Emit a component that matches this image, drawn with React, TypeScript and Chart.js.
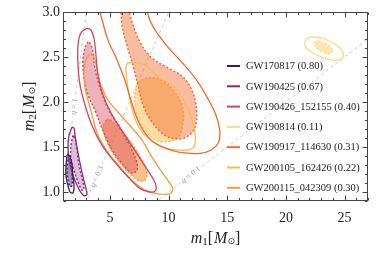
import React, { useEffect, useRef } from 'react';
import { Chart, registerables } from 'chart.js';

Chart.register(...registerables);

type P = { x: number; y: number };

// ---------- axes ----------
const xRange = [1, 27];
const yRange = [0.9, 3.0];
const xTicks = [5, 10, 15, 20, 25];
const yTicks = [1.0, 1.5, 2.0, 2.5, 3.0];

// ---------- legend ----------
const eventNames = [
  'GW170817',
  'GW190425',
  'GW190426_152155',
  'GW190814',
  'GW190917_114630',
  'GW200105_162426',
  'GW200115_042309',
];
const eventValues = ['0.80', '0.67', '0.40', '0.11', '0.31', '0.22', '0.30'];
const eventColors = ['#3d1a5e', '#8b2a80', '#d5455a', '#fdd984', '#ef6a2c', '#fcbb4c', '#f99b3a'];
const eventFills = [
  'rgba(61,26,94,0.45)',
  'rgba(139,42,128,0.3)',
  'rgba(217,72,91,0.42)',
  'rgba(253,217,132,0.65)',
  'rgba(239,106,44,0.45)',
  'rgba(252,187,76,0.5)',
  'rgba(246,140,50,0.55)',
];

// ---------- mass-ratio reference lines ----------
const qValues = ['1', '0.3', '0.1'];
const qLine1: P[] = [{ x: 0.5, y: 0.5 }, { x: 3.2, y: 3.2 }];
const qLine03: P[] = [{ x: 2.5, y: 0.75 }, { x: 10.5, y: 3.15 }];
const qLine01: P[] = [{ x: 8.0, y: 0.8 }, { x: 28, y: 2.8 }];
const qLabelM1 = [1.95, 3.9, 11.9];

// ---------- contours (90% solid, 50% filled) ----------
const gw170817_90: P[] = [
  { x: 1.34, y: 1.41 }, { x: 1.26, y: 1.3 }, { x: 1.26, y: 1.17 }, { x: 1.43, y: 1.07 },
  { x: 1.6, y: 1.0 }, { x: 1.85, y: 0.99 }, { x: 1.94, y: 1.06 }, { x: 1.85, y: 1.17 },
  { x: 1.77, y: 1.3 }, { x: 1.6, y: 1.39 }, { x: 1.43, y: 1.42 },
];
const gw170817_50: P[] = [
  { x: 1.43, y: 1.36 }, { x: 1.34, y: 1.24 }, { x: 1.43, y: 1.13 }, { x: 1.6, y: 1.06 },
  { x: 1.77, y: 1.07 }, { x: 1.77, y: 1.19 }, { x: 1.68, y: 1.3 }, { x: 1.51, y: 1.37 },
];
const gw190425_90: P[] = [
  { x: 1.77, y: 1.72 }, { x: 1.51, y: 1.63 }, { x: 1.43, y: 1.5 }, { x: 1.51, y: 1.36 },
  { x: 1.77, y: 1.22 }, { x: 2.11, y: 1.1 }, { x: 2.45, y: 1.01 }, { x: 2.79, y: 0.96 },
  { x: 3.04, y: 0.97 }, { x: 2.96, y: 1.04 }, { x: 2.7, y: 1.17 }, { x: 2.45, y: 1.32 },
  { x: 2.19, y: 1.5 }, { x: 2.02, y: 1.63 }, { x: 1.94, y: 1.71 },
];
const gw190425_50: P[] = [
  { x: 1.85, y: 1.63 }, { x: 1.68, y: 1.52 }, { x: 1.68, y: 1.38 }, { x: 1.94, y: 1.24 },
  { x: 2.28, y: 1.11 }, { x: 2.62, y: 1.02 }, { x: 2.79, y: 1.03 }, { x: 2.62, y: 1.16 },
  { x: 2.36, y: 1.3 }, { x: 2.19, y: 1.47 }, { x: 2.02, y: 1.6 },
];
const gw190426_90: P[] = [
  { x: 3.04, y: 2.82 }, { x: 2.53, y: 2.77 }, { x: 2.28, y: 2.63 }, { x: 2.28, y: 2.41 },
  { x: 2.45, y: 2.19 }, { x: 2.87, y: 1.97 }, { x: 3.47, y: 1.74 }, { x: 4.32, y: 1.52 },
  { x: 5.43, y: 1.33 }, { x: 6.53, y: 1.17 }, { x: 7.55, y: 1.04 }, { x: 8.4, y: 1.0 },
  { x: 8.91, y: 1.02 }, { x: 8.83, y: 1.11 }, { x: 8.23, y: 1.24 }, { x: 7.38, y: 1.41 },
  { x: 6.28, y: 1.63 }, { x: 5.17, y: 1.86 }, { x: 4.4, y: 2.08 }, { x: 3.98, y: 2.3 },
  { x: 3.81, y: 2.52 }, { x: 3.64, y: 2.71 }, { x: 3.38, y: 2.8 },
];
const gw190426_50: P[] = [
  { x: 3.13, y: 2.67 }, { x: 2.87, y: 2.6 }, { x: 2.7, y: 2.47 }, { x: 2.79, y: 2.27 },
  { x: 3.13, y: 2.08 }, { x: 3.72, y: 1.91 }, { x: 4.32, y: 1.71 }, { x: 5.17, y: 1.47 },
  { x: 6.19, y: 1.29 }, { x: 6.87, y: 1.21 }, { x: 7.3, y: 1.24 }, { x: 7.3, y: 1.33 },
  { x: 6.79, y: 1.49 }, { x: 5.85, y: 1.71 }, { x: 4.83, y: 1.93 }, { x: 4.15, y: 2.16 },
  { x: 3.72, y: 2.38 }, { x: 3.55, y: 2.56 }, { x: 3.38, y: 2.64 },
];
const gw190814_90: P[] = [
  { x: 21.6, y: 2.667 }, { x: 21.85, y: 2.711 }, { x: 22.45, y: 2.722 }, { x: 23.3, y: 2.7 },
  { x: 24.15, y: 2.644 }, { x: 24.74, y: 2.578 }, { x: 24.91, y: 2.511 }, { x: 24.57, y: 2.467 },
  { x: 23.89, y: 2.467 }, { x: 23.04, y: 2.5 }, { x: 22.19, y: 2.556 }, { x: 21.68, y: 2.611 },
];
const gw190814_50: P[] = [
  { x: 22.36, y: 2.656 }, { x: 22.7, y: 2.678 }, { x: 23.3, y: 2.656 }, { x: 23.81, y: 2.611 },
  { x: 23.98, y: 2.567 }, { x: 23.72, y: 2.533 }, { x: 23.13, y: 2.556 }, { x: 22.62, y: 2.6 },
];
const gw190917_90: P[] = [
  { x: 3.72, y: 3.19 }, { x: 4.15, y: 3.0 }, { x: 4.83, y: 2.69 }, { x: 5.6, y: 2.47 },
  { x: 6.28, y: 2.24 }, { x: 6.79, y: 2.02 }, { x: 7.3, y: 1.82 }, { x: 7.81, y: 1.69 },
  { x: 8.57, y: 1.57 }, { x: 9.68, y: 1.49 }, { x: 10.96, y: 1.44 }, { x: 12.66, y: 1.43 },
  { x: 13.68, y: 1.47 }, { x: 14.28, y: 1.56 }, { x: 14.36, y: 1.69 }, { x: 14.02, y: 1.86 },
  { x: 13.34, y: 2.04 }, { x: 12.4, y: 2.24 }, { x: 11.21, y: 2.43 }, { x: 9.94, y: 2.61 },
  { x: 9.0, y: 2.77 }, { x: 8.4, y: 2.91 }, { x: 8.06, y: 3.08 }, { x: 7.98, y: 3.19 },
];
const gw190917_50: P[] = [
  { x: 5.94, y: 3.08 }, { x: 6.02, y: 2.86 }, { x: 6.45, y: 2.63 }, { x: 6.96, y: 2.41 },
  { x: 7.38, y: 2.19 }, { x: 7.81, y: 1.97 }, { x: 8.57, y: 1.78 }, { x: 9.68, y: 1.63 },
  { x: 10.7, y: 1.59 }, { x: 11.55, y: 1.61 }, { x: 12.23, y: 1.71 }, { x: 12.4, y: 1.89 },
  { x: 12.06, y: 2.11 }, { x: 11.21, y: 2.28 }, { x: 9.94, y: 2.38 }, { x: 8.57, y: 2.49 },
  { x: 7.55, y: 2.67 }, { x: 6.7, y: 2.97 }, { x: 6.62, y: 3.08 },
];
const gw200105_90: P[] = [
  { x: 6.45, y: 2.43 }, { x: 7.13, y: 2.44 }, { x: 7.98, y: 2.41 }, { x: 9.09, y: 2.28 },
  { x: 10.53, y: 2.16 }, { x: 11.64, y: 1.93 }, { x: 12.23, y: 1.67 }, { x: 12.23, y: 1.52 },
  { x: 11.81, y: 1.47 }, { x: 10.53, y: 1.47 }, { x: 9.43, y: 1.5 }, { x: 8.23, y: 1.6 },
  { x: 7.38, y: 1.74 }, { x: 6.87, y: 1.93 }, { x: 6.53, y: 2.16 }, { x: 6.36, y: 2.36 },
];
const gw200105_50: P[] = [
  { x: 7.38, y: 2.22 }, { x: 8.23, y: 2.27 }, { x: 9.43, y: 2.24 }, { x: 10.53, y: 2.11 },
  { x: 11.21, y: 1.93 }, { x: 11.21, y: 1.74 }, { x: 10.79, y: 1.6 }, { x: 9.94, y: 1.56 },
  { x: 9.0, y: 1.57 }, { x: 8.15, y: 1.66 }, { x: 7.38, y: 1.82 }, { x: 7.13, y: 2.0 },
  { x: 7.21, y: 2.16 },
];
const gw200115_90: P[] = [
  { x: 3.3, y: 2.53 }, { x: 2.96, y: 2.47 }, { x: 2.79, y: 2.33 }, { x: 2.87, y: 2.16 },
  { x: 3.13, y: 2.02 }, { x: 3.47, y: 1.86 }, { x: 3.98, y: 1.63 }, { x: 4.83, y: 1.44 },
  { x: 5.85, y: 1.28 }, { x: 6.87, y: 1.13 }, { x: 7.98, y: 1.02 }, { x: 9.09, y: 0.98 },
  { x: 10.11, y: 0.98 }, { x: 10.36, y: 1.03 }, { x: 9.94, y: 1.13 }, { x: 9.43, y: 1.22 },
  { x: 8.57, y: 1.39 }, { x: 7.72, y: 1.58 }, { x: 6.28, y: 1.8 }, { x: 4.83, y: 2.02 },
  { x: 4.23, y: 2.19 }, { x: 3.89, y: 2.36 }, { x: 3.72, y: 2.47 }, { x: 3.55, y: 2.52 },
];
const gw200115_50: P[] = [
  { x: 4.66, y: 1.8 }, { x: 4.4, y: 1.72 }, { x: 4.66, y: 1.58 }, { x: 5.26, y: 1.43 },
  { x: 6.02, y: 1.3 }, { x: 6.87, y: 1.18 }, { x: 7.55, y: 1.12 }, { x: 8.06, y: 1.14 },
  { x: 8.15, y: 1.23 }, { x: 7.72, y: 1.36 }, { x: 6.96, y: 1.52 }, { x: 6.11, y: 1.67 },
  { x: 5.26, y: 1.78 }, { x: 4.91, y: 1.81 },
];

const outer90 = [gw170817_90, gw190425_90, gw190426_90, gw190814_90, gw190917_90, gw200105_90, gw200115_90];
const inner50 = [gw170817_50, gw190425_50, gw190426_50, gw190814_50, gw190917_50, gw200105_50, gw200115_50];

const SERIF = '"Liberation Serif", "DejaVu Serif", serif';
const TEXT = '#222222';

const closeRing = (pts: P[]) => [...pts, pts[0]];

function drawMathLabel(ctx: CanvasRenderingContext2D, sub: string) {
  const pieces = [
    { t: 'm', f: `italic 16px ${SERIF}`, dy: 0 },
    { t: sub, f: `11px ${SERIF}`, dy: 3 },
    { t: '[', f: `16px ${SERIF}`, dy: 0 },
    { t: 'M', f: `italic 16px ${SERIF}`, dy: 0 },
    { t: '\u2299', f: `9px "DejaVu Sans", sans-serif`, dy: 3 },
    { t: ']', f: `16px ${SERIF}`, dy: 0 },
  ];
  let w = 0;
  pieces.forEach((p) => {
    ctx.font = p.f;
    w += ctx.measureText(p.t).width + (p.t === '[' ? 1 : 0);
  });
  let x = -w / 2;
  ctx.textBaseline = 'middle';
  ctx.textAlign = 'left';
  ctx.fillStyle = TEXT;
  pieces.forEach((p) => {
    ctx.font = p.f;
    ctx.fillText(p.t, x, p.dy);
    x += ctx.measureText(p.t).width + (p.t === '[' ? 1 : 0);
  });
}

const decorPlugin = {
  id: 'decor',
  afterDatasetDraw(chart: any, args: any) {
    const i = args.index;
    if (i > 2) return;
    const { ctx, scales } = chart;
    const xs = scales.x;
    const ys = scales.y;
    const q = parseFloat(qValues[i]);
    const m1 = qLabelM1[i];
    const px = xs.getPixelForValue(m1);
    const py = ys.getPixelForValue(q * m1);
    const px2 = xs.getPixelForValue(m1 + 0.5);
    const py2 = ys.getPixelForValue(q * (m1 + 0.5));
    const ang = Math.atan2(py2 - py, px2 - px);
    ctx.save();
    ctx.translate(px, py);
    ctx.rotate(ang);
    const f1 = `italic 8px ${SERIF}`;
    const f2 = `8px ${SERIF}`;
    const rest = ' = ' + qValues[i];
    ctx.font = f1;
    const w1 = ctx.measureText('q').width;
    ctx.font = f2;
    const w2 = ctx.measureText(rest).width;
    const w = w1 + w2;
    ctx.fillStyle = '#ffffff';
    ctx.fillRect(-w / 2 - 2.5, -4, w + 5, 8);
    ctx.fillStyle = '#9a9a9a';
    ctx.textBaseline = 'middle';
    ctx.textAlign = 'left';
    ctx.font = f1;
    ctx.fillText('q', -w / 2, 0);
    ctx.font = f2;
    ctx.fillText(rest, -w / 2 + w1, 0);
    ctx.restore();
  },
  afterDraw(chart: any) {
    const { ctx, chartArea: a, scales } = chart;
    const xs = scales.x;
    const ys = scales.y;
    ctx.save();
    // frame
    ctx.strokeStyle = '#444444';
    ctx.lineWidth = 1;
    const L = Math.round(a.left) + 0.5;
    const R = Math.round(a.right) - 0.5;
    const T = Math.round(a.top) + 0.5;
    const B = Math.round(a.bottom) - 0.5;
    ctx.strokeRect(L, T, R - L, B - T);
    // ticks
    ctx.beginPath();
    for (let v = Math.ceil(xRange[0]); v <= xRange[1]; v += 1) {
      const major = v % 5 === 0;
      const len = major ? 5 : 2.5;
      const x = Math.round(xs.getPixelForValue(v)) + 0.5;
      ctx.moveTo(x, B);
      ctx.lineTo(x, B - len);
      ctx.moveTo(x, T);
      ctx.lineTo(x, T + len);
    }
    for (let k = 9; k <= 30; k += 1) {
      const v = k / 10;
      const major = k % 5 === 0;
      const len = major ? 5 : 2.5;
      const y = Math.round(ys.getPixelForValue(v)) + 0.5;
      ctx.moveTo(L, y);
      ctx.lineTo(L + len, y);
      ctx.moveTo(R, y);
      ctx.lineTo(R - len, y);
    }
    ctx.stroke();

    // legend
    const lx = a.left + 164;
    const ly0 = a.top + 54;
    const step = 20.3;
    eventNames.forEach((name, i) => {
      const y = ly0 + i * step;
      ctx.strokeStyle = eventColors[i];
      ctx.lineWidth = 2;
      ctx.beginPath();
      ctx.moveTo(lx, y);
      ctx.lineTo(lx + 13, y);
      ctx.stroke();
      ctx.fillStyle = TEXT;
      ctx.font = `10.5px ${SERIF}`;
      ctx.textBaseline = 'middle';
      ctx.textAlign = 'left';
      ctx.fillText(`${name} (${eventValues[i]})`, lx + 19, y + 0.5);
    });

    // axis titles
    ctx.save();
    ctx.translate((a.left + a.right) / 2, 239);
    drawMathLabel(ctx, '1');
    ctx.restore();
    ctx.save();
    ctx.translate(30, (a.top + a.bottom) / 2);
    ctx.rotate(-Math.PI / 2);
    drawMathLabel(ctx, '2');
    ctx.restore();

    ctx.restore();
  },
};

export default function App() {
  const ref = useRef<HTMLCanvasElement | null>(null);

  useEffect(() => {
    if (!ref.current) return;
    const datasets: any[] = [];
    [qLine1, qLine03, qLine01].forEach((line) => {
      datasets.push({
        data: line,
        showLine: true,
        borderColor: '#c8c8c8',
        borderDash: [3, 3],
        borderWidth: 1,
        pointRadius: 0,
        fill: false,
        tension: 0,
        order: 9,
      });
    });
    outer90.forEach((outer, i) => {
      datasets.push({
        data: closeRing(inner50[i]),
        showLine: true,
        fill: 'shape',
        backgroundColor: eventFills[i],
        borderColor: eventColors[i],
        borderDash: [2, 2],
        borderWidth: 1.4,
        pointRadius: 0,
        tension: 0.35,
        order: 5,
      });
      datasets.push({
        data: closeRing(outer),
        showLine: true,
        fill: false,
        borderColor: eventColors[i],
        borderWidth: 1.3,
        pointRadius: 0,
        tension: 0.35,
        order: 1,
      });
    });

    const tickFont = { family: SERIF, size: 14 };
    const chart = new Chart(ref.current, {
      type: 'scatter',
      data: { datasets },
      options: {
        responsive: false,
        animation: false,
        layout: { padding: { left: 0, right: 13, top: 12, bottom: 0 } },
        plugins: { legend: { display: false }, tooltip: { enabled: false } },
        scales: {
          x: {
            type: 'linear',
            min: xRange[0],
            max: xRange[1],
            grid: { display: false, drawTicks: false },
            border: { display: false },
            afterBuildTicks: (s: any) => {
              s.ticks = xTicks.map((v) => ({ value: v }));
            },
            afterFit: (s: any) => {
              s.height = 65;
            },
            ticks: {
              padding: 9,
              font: tickFont,
              color: TEXT,
              maxRotation: 0,
              autoSkip: false,
              callback: (v: any) => String(v),
            },
          },
          y: {
            type: 'linear',
            min: yRange[0],
            max: yRange[1],
            grid: { display: false, drawTicks: false },
            border: { display: false },
            afterBuildTicks: (s: any) => {
              s.ticks = yTicks.map((v) => ({ value: v }));
            },
            afterFit: (s: any) => {
              s.width = 63;
            },
            ticks: {
              padding: 3,
              font: tickFont,
              color: TEXT,
              autoSkip: false,
              callback: (v: any) => Number(v).toFixed(1),
            },
          },
        },
      } as any,
      plugins: [decorPlugin],
    });
    return () => chart.destroy();
  }, []);

  return (
    <div style={{ position: 'fixed', left: 0, top: 0, width: 381, height: 266, background: '#fff' }}>
      <canvas ref={ref} width={381} height={266} style={{ display: 'block' }} />
    </div>
  );
}
